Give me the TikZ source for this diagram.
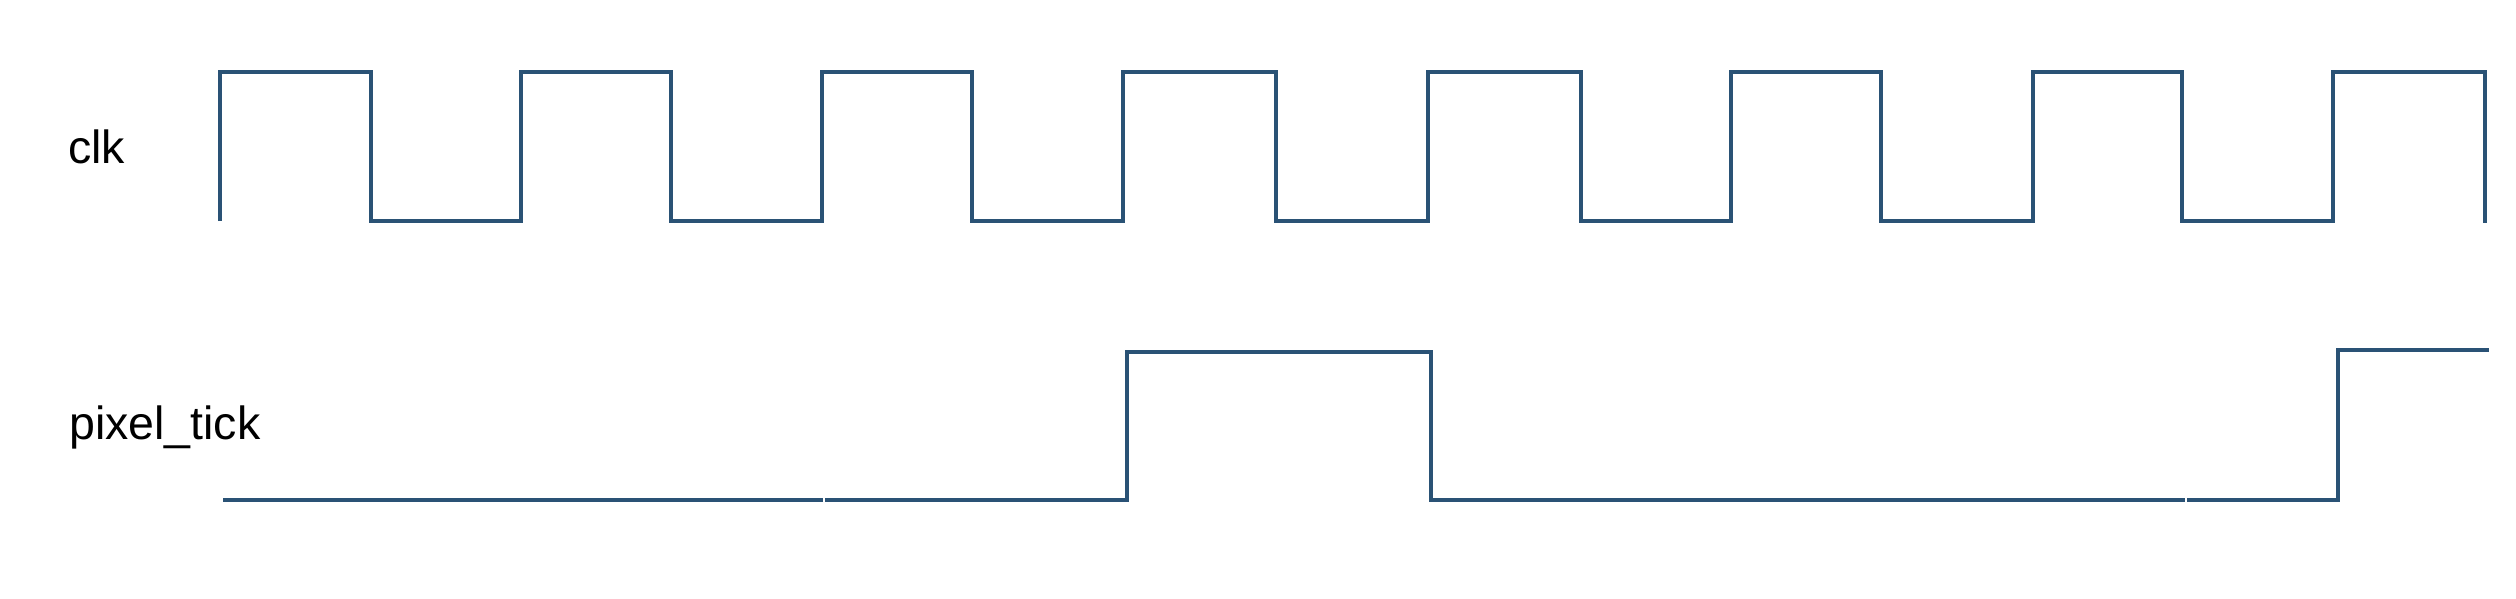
\documentclass[tikz,border=0pt]{standalone}
\usepackage{fontspec}
\setmainfont{Liberation Sans}
\definecolor{wavecol}{RGB}{42,82,117}
\begin{document}
\begin{tikzpicture}[x=1pt,y=-1pt,
  wave/.style={draw=wavecol, line width=3.5pt, line join=miter, line cap=butt},
  siglabel/.style={font=\fontsize{46.5}{52}\selectfont, anchor=base west, inner sep=0pt, text=black}]
\useasboundingbox (0,0) rectangle (2516,598);
\node[siglabel] (clk) at (68,163) {clk};
\node[siglabel] (ptick) at (69,439) {pixel\_tick};
% clock
\draw[wave] (220,221) -- (220,72) -- (371,72) -- (371,221) -- (521,221)
  -- (521,72) -- (671,72) -- (671,221) -- (822,221)
  -- (822,72) -- (972,72) -- (972,221) -- (1123,221)
  -- (1123,72) -- (1276,72) -- (1276,221) -- (1428,221)
  -- (1428,72) -- (1581,72) -- (1581,221) -- (1731,221)
  -- (1731,72) -- (1881,72) -- (1881,221) -- (2033,221)
  -- (2033,72) -- (2182,72) -- (2182,221) -- (2333,221)
  -- (2333,72) -- (2485,72) -- (2485,223);
% pixel_tick
\draw[wave] (223,500) -- (823,500);
\draw[wave] (825,500) -- (1127,500) -- (1127,352) -- (1431,352) -- (1431,500) -- (2185,500);
\draw[wave] (2187,500) -- (2338,500) -- (2338,350) -- (2489,350);
\end{tikzpicture}
\end{document}
